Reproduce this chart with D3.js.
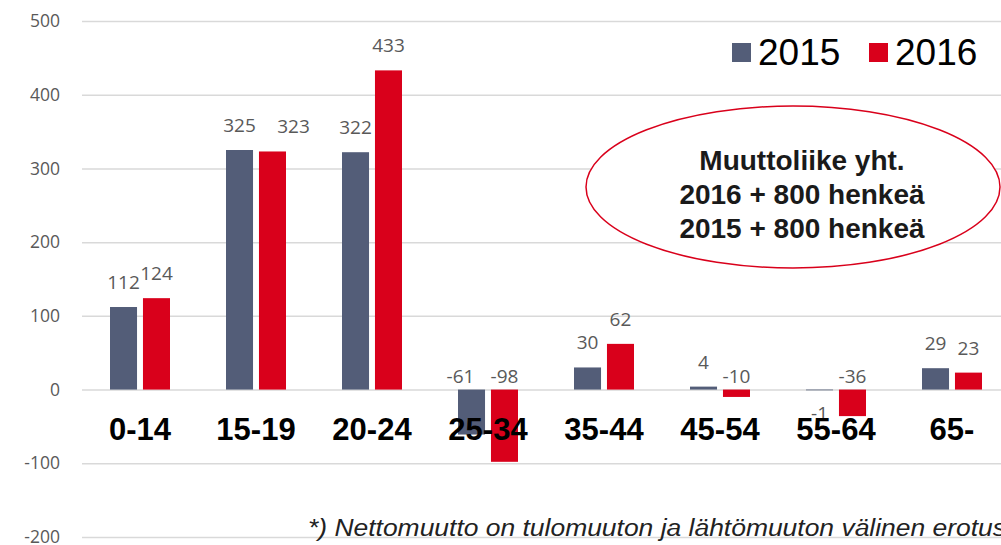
<!DOCTYPE html>
<html><head><meta charset="utf-8">
<script src="https://cdn.jsdelivr.net/npm/d3@7"></script>
<style>body{margin:0;background:#fff;overflow:hidden}</style>
</head><body>
<svg id="c" width="1001" height="545"></svg>
<script>
const categories = ["0-14","15-19","20-24","25-34","35-44","45-54","55-64","65-"];
const series2015 = [112,325,322,-61,30,4,-1,29];
const series2016 = [124,323,433,-98,62,-10,-36,23];
const seriesNames = ["2015","2016"];
const yTicks = [-200,-100,0,100,200,300,400,500];
const noteLines = ["Muuttoliike yht.","2016 + 800 henkeä","2015 + 800 henkeä"];
const footnote = "*) Nettomuutto on tulomuuton ja lähtömuuton välinen erotus";

const colors = {"2015":"#535d78","2016":"#d9001b"};
// manual label nudges as in the original slide
const nudge = {"15-19|2016":[21,0], "25-34|2015":[-11,0]};

const svg = d3.select("#c");
const y = d3.scaleLinear().domain([-200,500]).range([537,21]);
const x = d3.scaleBand().domain(categories).range([82,1010]).paddingInner(0).paddingOuter(0);
const inner = d3.scaleBand().domain(seriesNames).range([0,60]).paddingInner(0.18);

// gridlines
const yAxis = d3.axisLeft(y).tickValues(yTicks).tickSize(-930).tickPadding(22).tickFormat(d=>String(d));
const ga = svg.append("g").attr("transform","translate(82,0)").call(yAxis);
ga.select(".domain").remove();
ga.selectAll(".tick line").attr("stroke","#d9d9d9").attr("stroke-width",1.5);
ga.selectAll(".tick text").attr("fill","#595959").attr("font-family","Open Sans, sans-serif").attr("font-size",17.5);

// ellipse
svg.append("ellipse").attr("cx",793).attr("cy",187).attr("rx",207).attr("ry",81)
  .attr("fill","#fff").attr("stroke","#d9001b").attr("stroke-width",1.5);
svg.append("g").selectAll("text").data(noteLines).join("text")
  .attr("x",802).attr("y",(d,i)=>170+i*34).attr("text-anchor","middle")
  .attr("font-family","Liberation Sans, Arial, sans-serif").attr("font-weight","bold")
  .attr("font-size",28).attr("fill","#1a1a1a").text(d=>d);

// bars
const data = [];
categories.forEach((c,i)=>{
  data.push({c,s:"2015",v:series2015[i]});
  data.push({c,s:"2016",v:series2016[i]});
});
const gx = c => x(c) + (x.bandwidth()-60)/2;
svg.append("g").selectAll("rect").data(data).join("rect")
  .attr("x",d=>gx(d.c)+inner(d.s)).attr("width",inner.bandwidth())
  .attr("y",d=>y(Math.max(0,d.v))).attr("height",d=>Math.abs(y(d.v)-y(0)))
  .attr("fill",d=>colors[d.s]);

// value labels
const nd = d => nudge[d.c+"|"+d.s] || [0,0];
svg.append("g").selectAll("text").data(data).join("text")
  .attr("x",d=>gx(d.c)+inner(d.s)+inner.bandwidth()/2+nd(d)[0])
  .attr("y",d=>(d.v>=0 ? y(d.v)-18 : (d.v>-5 ? y(0)+30 : y(0)-7))+nd(d)[1])
  .attr("text-anchor","middle").attr("fill","#595959")
  .attr("font-family","Open Sans, sans-serif").attr("font-size",19).text(d=>String(d.v));

// category labels
const xAxis = d3.axisBottom(x).tickSize(0).tickPadding(0);
const gxa = svg.append("g").attr("transform","translate(0,440)").call(xAxis);
gxa.select(".domain").remove();
gxa.selectAll(".tick text").attr("fill","#000").attr("font-family","Liberation Sans, Arial, sans-serif")
  .attr("font-weight","bold").attr("font-size",31).attr("dy","0");

// legend
const lg = svg.append("g");
const lx = [732,869];
seriesNames.forEach((s,i)=>{
  lg.append("rect").attr("x",lx[i]).attr("y",43).attr("width",19).attr("height",19).attr("fill",colors[s]);
  lg.append("text").attr("x",lx[i]+26).attr("y",65).attr("font-family","Liberation Sans, Arial, sans-serif")
    .attr("font-size",37).attr("fill","#000").text(s);
});

// footnote
svg.append("text").attr("x",308).attr("y",536).attr("font-family","Liberation Sans, Arial, sans-serif")
  .attr("font-style","italic").attr("font-size",23).attr("fill","#222")
  .attr("textLength",698).attr("lengthAdjust","spacingAndGlyphs").text(footnote);
</script>
</body></html>
